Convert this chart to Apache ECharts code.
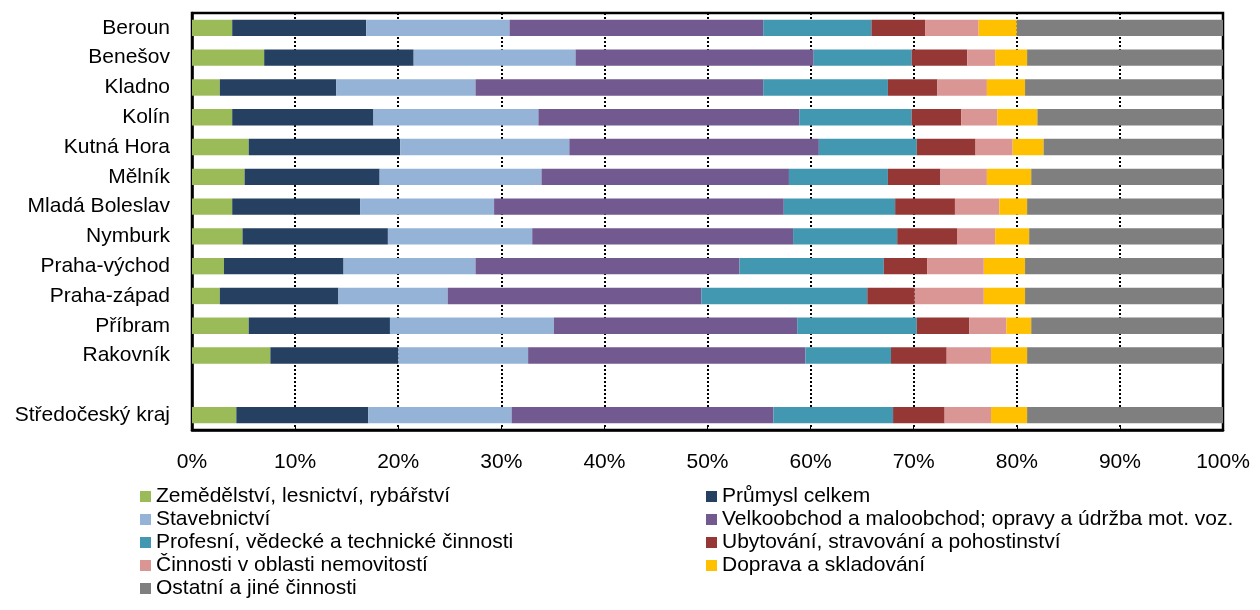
<!DOCTYPE html>
<html>
<head>
<meta charset="utf-8">
<script src="https://cdn.jsdelivr.net/npm/echarts@6/dist/echarts.min.js"></script>
<style>
html,body{margin:0;padding:0;background:#fff;}
#c{width:1260px;height:610px;}
</style>
</head>
<body>
<div id="c"></div>
<script>
var categories = ['Beroun','Benešov','Kladno','Kolín','Kutná Hora','Mělník','Mladá Boleslav','Nymburk','Praha-východ','Praha-západ','Příbram','Rakovník','','Středočeský kraj'];
var seriesNames = ['Zemědělství, lesnictví, rybářství','Průmysl celkem','Stavebnictví','Velkoobchod a maloobchod; opravy a údržba mot. voz.','Profesní, vědecké a technické činnosti','Ubytování, stravování a pohostinství','Činnosti v oblasti nemovitostí','Doprava a skladování','Ostatní a jiné činnosti'];
var zemedelstvi = [3.9,7.0,2.7,3.9,5.5,5.1,3.9,4.9,3.1,2.7,5.5,7.6,'-',4.3];
var prumysl     = [13.0,14.5,11.3,13.7,14.7,13.1,12.4,14.1,11.6,11.5,13.7,12.4,'-',12.8];
var stavebnictvi= [13.9,15.7,13.5,16.0,16.4,15.7,13.0,14.0,12.8,10.6,15.9,12.6,'-',13.9];
var velkoobchod = [24.6,23.1,27.9,25.3,24.2,24.0,28.1,25.3,25.6,24.6,23.6,26.9,'-',25.4];
var profesni    = [10.5,9.5,12.1,10.9,9.5,9.6,10.8,10.1,14.0,16.1,11.6,8.3,'-',11.6];
var ubytovani   = [5.2,5.4,4.8,4.8,5.7,5.1,5.8,5.8,4.2,4.6,5.1,5.4,'-',5.0];
var nemovitosti = [5.2,2.7,4.8,3.5,3.6,4.5,4.3,3.7,5.5,6.7,3.6,4.3,'-',4.5];
var doprava     = [3.7,3.1,3.7,3.9,3.0,4.3,2.7,3.3,4.0,4.0,2.4,3.5,'-',3.5];
var ostatni     = [20.0,19.0,19.2,18.0,17.4,18.6,19.0,18.8,19.2,19.2,18.6,19.0,'-',19.0];
var xTicks = [0,10,20,30,40,50,60,70,80,90,100];

var values = [zemedelstvi,prumysl,stavebnictvi,velkoobchod,profesni,ubytovani,nemovitosti,doprava,ostatni];
var colors = ['#9BBB59','#254061','#95B3D7','#72598F','#4298B0','#953735','#D99694','#FFC000','#7F7F7F'];
var font = "'Liberation Sans', Arial, sans-serif";

var chart = echarts.init(document.getElementById('c'), null, {renderer:'canvas'});
var series = values.map(function(v,i){
  return {
    name: seriesNames[i], type:'bar', stack:'total', data:v, barWidth:'55%',
    itemStyle:{color:colors[i]}, emphasis:{disabled:true}, animation:false
  };
});
var legendText = {fontSize:21,color:'#000',fontFamily:font,lineHeight:23};
chart.setOption({
  animation:false,
  color: colors,
  textStyle:{fontFamily:font},
  grid:{left:192,right:37,top:13,bottom:180,show:true,borderColor:'#000',borderWidth:2.5,backgroundColor:'transparent'},
  xAxis:{
    type:'value', min:0, max:100, interval:10,
    axisLine:{show:true,lineStyle:{color:'#000',width:2.5}},
    axisTick:{show:true,inside:true,length:5,lineStyle:{color:'#000'}},
    axisLabel:{formatter:function(v){return v+'%';},fontSize:21,color:'#000',margin:22,fontFamily:font,
      customValues: xTicks},
    splitLine:{show:true,lineStyle:{color:'#000',type:[2,2],width:2}}
  },
  yAxis:{
    type:'category', data:categories, inverse:true,
    axisLine:{show:true,lineStyle:{color:'#000',width:2.5}},
    axisTick:{show:false},
    axisLabel:{fontSize:21,color:'#000',margin:22,fontFamily:font},
    splitLine:{show:false}
  },
  legend:[
    {orient:'vertical',left:140,top:485,itemWidth:11,itemHeight:11,itemGap:0,padding:0,
     icon:'rect',textStyle:legendText,
     data:[seriesNames[0],seriesNames[2],seriesNames[4],seriesNames[6],seriesNames[8]]},
    {orient:'vertical',left:706,top:485,itemWidth:11,itemHeight:11,itemGap:0,padding:0,
     icon:'rect',textStyle:legendText,
     data:[seriesNames[1],seriesNames[3],seriesNames[5],seriesNames[7]]}
  ],
  series: series
});
</script>
</body>
</html>
